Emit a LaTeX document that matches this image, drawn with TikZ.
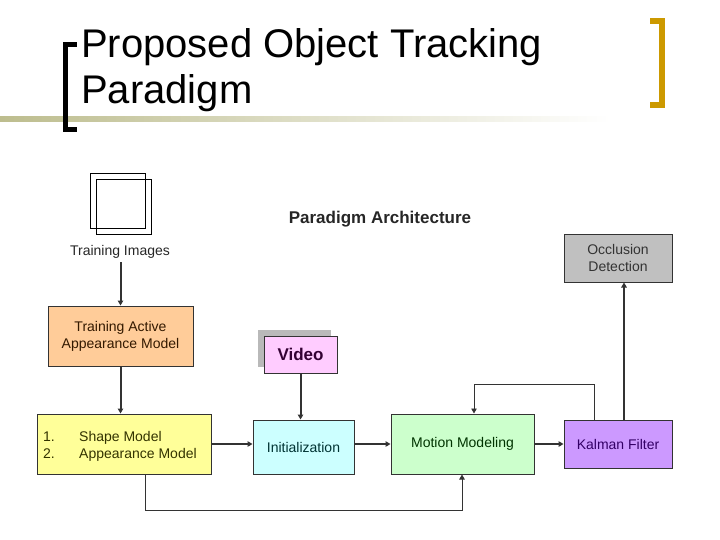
\documentclass[tikz,border=0pt]{standalone}
\usepackage{fontspec}
\setmainfont{Liberation Sans}
\usetikzlibrary{arrows.meta}
\definecolor{olivebar}{HTML}{BDBD8E}
\definecolor{goldbr}{HTML}{CC9900}
\definecolor{edge}{HTML}{333333}
\tikzset{
  box/.style={draw=edge, line width=1pt, inner sep=0pt, align=center, font=\fontsize{14}{17}\selectfont},
  arr/.style={draw=edge, line width=2pt, -{Triangle[length=5pt,width=5.5pt]}},
  thin arr/.style={draw=edge, line width=0.8pt, -{Triangle[length=5pt,width=5.5pt]}},
}
\begin{document}
\begin{tikzpicture}[x=1pt,y=-1pt]
\useasboundingbox (0,0) rectangle (720,540);
% title decorations
\shade[left color=olivebar, right color=white] (0,117) rectangle (610,122);
\fill[black] (63,42) rectangle (68,132);
\fill[black] (63,42) rectangle (77,47);
\fill[black] (63,127) rectangle (77,132);
\fill[goldbr] (659,18) rectangle (665,108);
\fill[goldbr] (650,18) rectangle (665,24);
\fill[goldbr] (650,102) rectangle (665,108);
\node[anchor=base west, inner sep=0pt, font=\fontsize{40}{45}\selectfont] (t1) at (81,58) {Proposed Object Tracking};
\node[anchor=base west, inner sep=0pt, font=\fontsize{40}{45}\selectfont] (t2) at (81,104) {Paradigm};
% double square icon
\draw[black, line width=1pt] (90,174) rectangle (145,229);
\draw[black, line width=1pt] (96,180) rectangle (151,234);
\node[font=\bfseries\fontsize{17}{20}\selectfont, text=black!85] (arch) at (380,219) {Paradigm Architecture};
\node[font=\fontsize{14}{17}\selectfont, text=black!85] (timg) at (120,252) {Training Images};
% boxes
\node[box, fill={rgb,255:red,255;green,204;blue,153}, text={rgb,255:red,51;green,25;blue,0}, minimum width=145pt, minimum height=60pt] (taam) at (120.5,336) {Training Active\\Appearance Model};
\node[box, fill={rgb,255:red,255;green,255;blue,153}, text={rgb,255:red,51;green,51;blue,0}, minimum width=174pt, minimum height=60pt] (shape) at (124,444) {};
\node[anchor=base west, font=\fontsize{14}{17}\selectfont, text={rgb,255:red,51;green,51;blue,0}, align=left, inner sep=0pt] (l1) at (43,441) {1.};
\node[anchor=base west, font=\fontsize{14}{17}\selectfont, text={rgb,255:red,51;green,51;blue,0}, align=left, inner sep=0pt] (l2) at (43,458) {2.};
\node[anchor=base west, font=\fontsize{14}{17}\selectfont, text={rgb,255:red,51;green,51;blue,0}, align=left, inner sep=0pt] (s1) at (79,441) {Shape Model};
\node[anchor=base west, font=\fontsize{14}{17}\selectfont, text={rgb,255:red,51;green,51;blue,0}, align=left, inner sep=0pt] (s2) at (79,458) {Appearance Model};
\fill[gray!55] (258,330) rectangle (331,367);
\node[box, fill={rgb,255:red,255;green,204;blue,255}, text={rgb,255:red,51;green,0;blue,51}, minimum width=73pt, minimum height=37pt, font=\bfseries\fontsize{17}{20}\selectfont] (video) at (300.5,354.5) {Video};
\node[box, fill={rgb,255:red,204;green,255;blue,255}, text={rgb,255:red,0;green,51;blue,51}, minimum width=101pt, minimum height=54pt] (init) at (303.5,447) {Initialization};
\node[box, fill={rgb,255:red,204;green,255;blue,204}, text={rgb,255:red,0;green,51;blue,0}, minimum width=143pt, minimum height=60pt] (motion) at (462.5,444) {Motion Modeling};
\node[box, fill={rgb,255:red,204;green,153;blue,255}, text={rgb,255:red,51;green,0;blue,102}, minimum width=108pt, minimum height=48pt] (kalman) at (618,444) {Kalman Filter};
\node[box, fill={rgb,255:red,192;green,192;blue,192}, text={rgb,255:red,51;green,51;blue,51}, minimum width=108pt, minimum height=48pt] (occ) at (618,258) {Occlusion\\Detection};
% connectors
\draw[arr] (timg.south -| taam.north) -- (taam.north);
\draw[arr] (taam.south) -- (taam.south |- shape.north);
\draw[arr] (video.south) -- (video.south |- init.north);
\draw[arr] (shape.east) -- (shape.east -| init.west);
\draw[arr] (init.east |- motion.west) -- (motion.west);
\draw[arr] (motion.east) -- (motion.east -| kalman.west);
\coordinate (up1) at (624,0);
\draw[arr] (kalman.north -| up1) -- (occ.south -| up1);
\coordinate (fb1) at (594,384);
\coordinate (fb2) at (474,384);
\draw[thin arr] (kalman.north -| fb1) -- (fb1) -- (fb2) -- (fb2 |- motion.north);
\coordinate (bt1) at (145,510);
\coordinate (bt2) at (462,510);
\draw[thin arr] (shape.south -| bt1) -- (bt1) -- (bt2) -- (bt2 |- motion.south);
\end{tikzpicture}
\end{document}
